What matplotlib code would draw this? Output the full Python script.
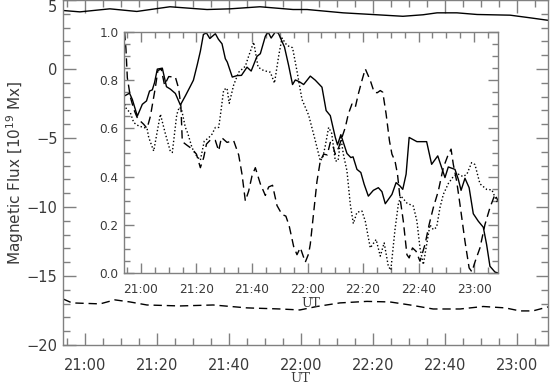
import matplotlib
matplotlib.use("Agg")
import matplotlib.pyplot as plt
from matplotlib.ticker import MultipleLocator, FuncFormatter

# time is given in minutes after 21:00 UT

# outer panel: total flux of the two polarities [10^19 Mx]
outer_pos_t = [-6.1, -1.4, 6.9, 14.4, 23.6, 33.9, 40.3, 48.6, 57.8, 61.7, 71.7,
               81.1, 88.3, 93.9, 97.8, 103.3, 108.9, 118.1, 123.6, 128.6]
outer_pos = [4.24, 4.14, 4.36, 4.17, 4.51, 4.31, 4.36, 4.51, 4.31, 4.31, 4.07,
             3.93, 3.82, 3.93, 4.07, 4.07, 3.95, 3.90, 3.71, 3.53]

outer_neg_t = [-6.1, -3.6, 4.2, 8.3, 12.5, 17.2, 26.4, 35.6, 45.0, 54.2, 59.7,
               64.4, 70.8, 78.3, 84.7, 90.3, 96.7, 104.2, 110.6, 116.7, 120.8,
               124.4, 128.6]
outer_neg = [-16.66, -16.95, -17.02, -16.73, -16.88, -17.10, -17.17, -17.10,
             -17.31, -17.39, -17.46, -17.21, -16.95, -16.84, -16.88, -17.10,
             -17.39, -17.39, -17.21, -17.31, -17.53, -17.53, -17.24]

# inset: normalised fluxes
solid_t = [-5.9, -4.1, -3.1, -1.3, 0.5, 2.0, 3.1, 4.1, 4.9, 5.9, 7.7, 9.2, 10.6,
           12.4, 14.2, 16.0, 17.8, 18.9, 20.3, 21.4, 22.5, 23.6, 24.8, 26.8,
           27.9, 29.2, 30.4, 31.1, 32.9, 34.6, 36.2, 38.2, 39.7, 41.8, 43.0,
           44.8, 45.8, 46.9, 48.4, 49.5, 51.7, 53.2, 54.6, 55.6, 57.0, 58.6,
           61.0, 62.8, 65.2, 66.7, 68.2, 70.0, 70.8, 72.0, 72.9, 74.2, 75.6,
           76.4, 77.8, 79.2, 80.4, 81.9, 83.7, 85.5, 86.8, 88.0, 90.4, 91.9,
           93.3, 94.3, 95.5, 96.6, 99.4, 102.9, 104.7, 106.9, 109.5, 110.7,
           113.1, 114.3, 115.3, 116.7, 118.2, 119.7, 121.5, 123.3, 124.5,
           125.7, 127.5, 128.6]
solid = [0.735, 0.746, 0.72, 0.651, 0.70, 0.714, 0.755, 0.76, 0.79, 0.846,
         0.850, 0.773, 0.763, 0.745, 0.697, 0.735, 0.775, 0.80, 0.865, 0.92,
         0.99, 0.996, 0.973, 0.993, 0.97, 0.951, 0.889, 0.875, 0.813, 0.819,
         0.82, 0.854, 0.838, 0.899, 0.91, 0.982, 1.0, 0.975, 1.0, 0.995,
         0.9375, 0.861, 0.782, 0.801, 0.794, 0.782, 0.817, 0.800, 0.771, 0.674,
         0.653, 0.5625, 0.532, 0.574, 0.542, 0.496, 0.479, 0.482, 0.43, 0.417,
         0.368, 0.319, 0.343, 0.354, 0.3375, 0.2875, 0.326, 0.375, 0.361,
         0.347, 0.41, 0.5625, 0.545, 0.545, 0.451, 0.486, 0.396, 0.44, 0.43,
         0.389, 0.343, 0.393, 0.354, 0.246, 0.215, 0.19, 0.118, 0.028, 0.004,
         0.0]

dotted_t = [-5.9, -5.2, -3.8, -2.6, -0.8, 1.0, 2.2, 2.8, 4.6, 7.0, 8.8, 10.6,
            11.3, 12.9, 13.8, 14.6, 16.0, 16.8, 18.4, 19.6, 21.4, 22.8, 24.3,
            25.6, 26.8, 28.0, 28.6, 29.8, 31.0, 31.8, 33.4, 35.2, 37.6, 38.8,
            40.6, 42.2, 44.2, 46.6, 48.1, 49.6, 50.8, 52.6, 54.6, 56.2, 58.0,
            60.4, 62.8, 64.6, 65.5, 66.4, 67.6, 68.7, 70.0, 71.0, 72.0, 72.9,
            74.2, 75.4, 76.5, 77.8, 79.6, 80.8, 82.6, 84.7, 86.2, 87.6, 89.1,
            90.0, 91.5, 92.7, 93.6, 95.8, 98.1, 99.4, 100.5, 101.7, 102.9,
            104.1, 105.3, 106.5, 107.7, 108.9, 110.7, 112.5, 114.3, 116.0,
            117.4, 119.1, 120.3, 122.1, 124.5, 126.4, 128.1, 128.6]
dotted = [0.70, 0.68, 0.665, 0.624, 0.61, 0.604, 0.60, 0.5625, 0.506, 0.659,
          0.578, 0.504, 0.50, 0.657, 0.688, 0.68, 0.604, 0.582, 0.52, 0.493,
          0.468, 0.547, 0.56, 0.576, 0.604, 0.604, 0.653, 0.76, 0.767, 0.704,
          0.78, 0.833, 0.858, 0.90, 0.958, 0.854, 0.84, 0.833, 0.788, 0.90,
          0.975, 0.944, 0.935, 0.838, 0.72, 0.655, 0.549, 0.465, 0.48, 0.528,
          0.604, 0.58, 0.465, 0.465, 0.5625, 0.493, 0.424, 0.285, 0.205, 0.252,
          0.257, 0.215, 0.104, 0.139, 0.07, 0.125, 0.028, 0.012, 0.18, 0.285,
          0.32, 0.29, 0.278, 0.215, 0.104, 0.035, 0.118, 0.20, 0.18, 0.19,
          0.271, 0.326, 0.371, 0.40, 0.41, 0.40, 0.41, 0.458, 0.45, 0.37,
          0.347, 0.345, 0.299, 0.29]

dashed_t = [-5.9, -5.4, -4.9, -3.8, -2.6, -1.4, -0.2, 1.0, 2.2, 3.4, 4.0, 5.2,
            6.1, 7.3, 8.5, 10.0, 12.4, 13.6, 14.4, 14.9, 16.6, 18.4, 20.0,
            21.4, 22.6, 23.6, 25.0, 26.8, 28.0, 29.0, 31.0, 33.4, 35.2, 36.4,
            37.6, 38.8, 40.0, 41.2, 43.0, 44.8, 46.0, 47.4, 49.0, 50.8, 52.2,
            53.4, 55.0, 56.2, 57.4, 59.2, 60.4, 61.0, 62.2, 63.4, 64.6, 65.8,
            67.1, 68.2, 69.1, 70.0, 71.2, 72.4, 73.6, 74.7, 76.0, 77.2, 78.3,
            79.6, 80.8, 82.6, 84.0, 85.1, 86.2, 87.1, 88.3, 89.5, 90.4, 91.5,
            92.4, 93.3, 94.5, 95.8, 96.6, 97.8, 99.1, 100.5, 102.3, 103.8,
            105.3, 107.1, 108.9, 110.5, 111.7, 112.5, 113.7, 114.9, 116.7,
            118.2, 119.2, 120.4, 122.1, 123.9, 125.7, 127.5, 128.6]
dashed = [1.0, 0.93, 0.81, 0.73, 0.68, 0.646, 0.63, 0.617, 0.60, 0.65, 0.69,
          0.77, 0.84, 0.847, 0.78, 0.815, 0.813, 0.765, 0.69, 0.545, 0.53,
          0.515, 0.493, 0.437, 0.479, 0.535, 0.552, 0.55, 0.507, 0.5625, 0.542,
          0.549, 0.49, 0.41, 0.299, 0.34, 0.403, 0.437, 0.37, 0.322, 0.357,
          0.364, 0.28, 0.243, 0.236, 0.195, 0.11, 0.076, 0.105, 0.045, 0.08,
          0.12, 0.25, 0.38, 0.465, 0.493, 0.49, 0.542, 0.53, 0.493, 0.52,
          0.5625, 0.604, 0.66, 0.701, 0.6875, 0.743, 0.799, 0.847, 0.799, 0.75,
          0.748, 0.757, 0.75, 0.66, 0.549, 0.493, 0.465, 0.41, 0.3125, 0.215,
          0.076, 0.0625, 0.104, 0.09, 0.049, 0.118, 0.201, 0.271, 0.34, 0.437,
          0.486, 0.514, 0.451, 0.382, 0.285, 0.132, 0.021, 0.005, 0.049, 0.104,
          0.201, 0.271, 0.326, 0.30]

T_MIN, T_MAX = -6.1, 128.6
AX_COL = "#808080"
TXT_COL = "#3a3a3a"
DASH = (0, (6, 3.5))
DOT = (0, (1, 1.6))


def hhmm(m, pos=None):
    t = 21 * 60 + int(round(m))
    return f"{t // 60}:{t % 60:02d}"


def style_axes(ax, size, major_len, minor_len, xpad, ypad):
    for s in ax.spines.values():
        s.set_color(AX_COL)
        s.set_linewidth(1.0)
    ax.tick_params(which="both", direction="in", top=True, right=True,
                   color=AX_COL, labelcolor=TXT_COL, labelsize=size)
    ax.tick_params(which="major", length=major_len, width=1.0)
    ax.tick_params(which="minor", length=minor_len, width=1.0)
    ax.tick_params(axis="x", pad=xpad)
    ax.tick_params(axis="y", pad=ypad)
    ax.xaxis.set_major_locator(MultipleLocator(20))
    ax.xaxis.set_minor_locator(MultipleLocator(5))
    ax.xaxis.set_major_formatter(FuncFormatter(hhmm))


fig = plt.figure(figsize=(5.5, 3.86), dpi=100)

# outer panel
ax = fig.add_axes([63 / 550, 41 / 386, 485 / 550, 345 / 386])
ax.plot(outer_pos_t, outer_pos, color="black", lw=1.0)
ax.plot(outer_neg_t, outer_neg, color="black", lw=1.0, linestyle=DASH)
ax.set_xlim(T_MIN, T_MAX)
ax.set_ylim(-20, 5)
style_axes(ax, 10.5, 9, 5, 9, 4)
ax.yaxis.set_major_locator(MultipleLocator(5))
ax.yaxis.set_minor_locator(MultipleLocator(1))
ax.set_xlabel("UT", fontsize=9.5, family="DejaVu Serif", color=TXT_COL)
ax.xaxis.set_label_coords(0.49, -0.077)
ax.set_ylabel(r"Magnetic Flux [10$^{19}$ Mx]", fontsize=11, color=TXT_COL)
ax.yaxis.set_label_coords(-0.076, 0.5)
fig.canvas.draw()
for lab in ax.get_yticklabels():
    if lab.get_text() == "5":
        lab.set_verticalalignment("top")

# inset panel
ins = fig.add_axes([124 / 550, 113 / 386, 374 / 550, 241 / 386])
ins.set_facecolor("white")
ins.plot(solid_t, solid, color="black", lw=1.0)
ins.plot(dotted_t, dotted, color="black", lw=1.0, linestyle=DOT)
ins.plot(dashed_t, dashed, color="black", lw=1.0, linestyle=DASH)
ins.set_xlim(T_MIN, T_MAX)
ins.set_ylim(0, 1)
style_axes(ins, 8.7, 7, 4, 7, 4)
ins.yaxis.set_major_locator(MultipleLocator(0.2))
ins.yaxis.set_minor_locator(MultipleLocator(0.05))
ins.yaxis.set_major_formatter(FuncFormatter(lambda v, p: f"{v:.1f}"))
ins.set_xlabel("UT", fontsize=9, family="DejaVu Serif", color=TXT_COL,
               labelpad=1)

fig.savefig("out.png", dpi=100)
